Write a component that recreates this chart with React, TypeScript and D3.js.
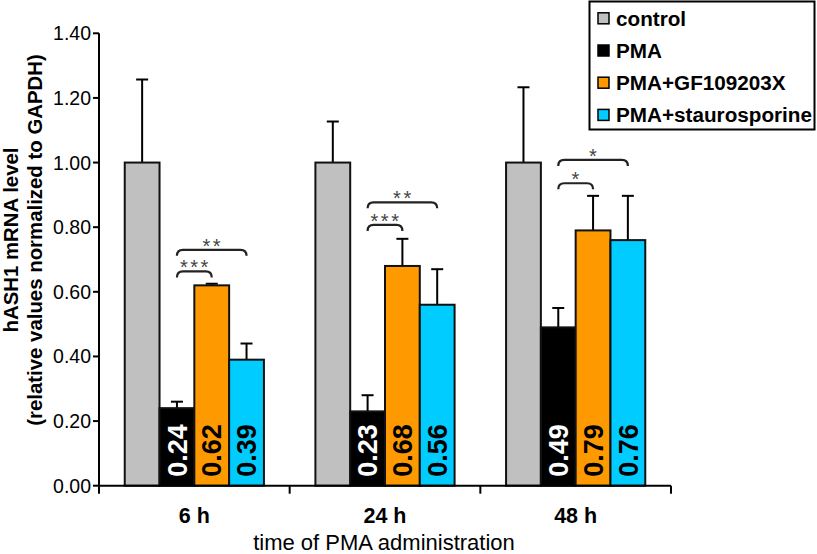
import React from 'react';
import * as d3 from 'd3';

const categories = ['6 h', '24 h', '48 h'];
const seriesNames = ['control', 'PMA', 'PMA+GF109203X', 'PMA+staurosporine'];
const seriesColors = ['#c0c0c0', '#000000', '#ff9900', '#00ccff'];
const labelColors = ['#000000', '#ffffff', '#000000', '#000000'];

const controlValues = [1.0, 1.0, 1.0];
const controlErrors = [0.257, 0.127, 0.233];
const pmaValues = [0.24, 0.23, 0.49];
const pmaErrors = [0.02, 0.05, 0.06];
const gfValues = [0.62, 0.68, 0.79];
const gfErrors = [0.005, 0.084, 0.107];
const stauroValues = [0.39, 0.56, 0.76];
const stauroErrors = [0.05, 0.11, 0.137];

const yTicks = [0, 0.2, 0.4, 0.6, 0.8, 1.0, 1.2, 1.4];

// significance brackets: category, left series, right series, height, stars
const brackets: Array<[string, string, string, number, string]> = [
  ['6 h', 'PMA', 'PMA+GF109203X', 0.663, '***'],
  ['6 h', 'PMA', 'PMA+staurosporine', 0.73, '**'],
  ['24 h', 'PMA', 'PMA+GF109203X', 0.807, '***'],
  ['24 h', 'PMA', 'PMA+staurosporine', 0.877, '**'],
  ['48 h', 'PMA', 'PMA+GF109203X', 0.936, '*'],
  ['48 h', 'PMA', 'PMA+staurosporine', 1.008, '*'],
];

const values = [controlValues, pmaValues, gfValues, stauroValues];
const errors = [controlErrors, pmaErrors, gfErrors, stauroErrors];

const W = 817;
const H = 554;
const left = 99;
const right = 671;
const top = 33.3;
const bottom = 485.7;
const font = '"Liberation Sans", Arial, sans-serif';

export default function App() {
  const x0 = d3.scaleBand<string>().domain(categories).range([left, right]).padding(0);
  const bw = x0.bandwidth();
  const gw = bw * 0.73;
  const x1 = d3
    .scaleBand<string>()
    .domain(seriesNames)
    .range([(bw - gw) / 2, (bw + gw) / 2])
    .padding(0);
  const y = d3.scaleLinear().domain([0, 1.4]).range([bottom, top]);
  const fmt = d3.format('.2f');
  const barW = x1.bandwidth();
  const cx = (cat: string, s: string) => (x0(cat) as number) + (x1(s) as number) + barW / 2;

  const xTicks = [left, ...categories.map((c) => (x0(c) as number) + bw)];

  return (
    <svg
      width={W}
      height={H}
      style={{ position: 'absolute', left: 0, top: 0, background: '#fff' }}
      fontFamily={font}
    >
      {/* bars */}
      {categories.map((cat, ci) => (
        <g key={cat} transform={`translate(${x0(cat)},0)`}>
          {seriesNames.map((s, si) => {
            const v = values[si][ci];
            const e = errors[si][ci];
            const bx = x1(s) as number;
            const mid = bx + barW / 2;
            return (
              <g key={s}>
                <line x1={mid} x2={mid} y1={y(v)} y2={y(v + e)} stroke="#000" strokeWidth={2} />
                <line x1={mid - 6} x2={mid + 6} y1={y(v + e)} y2={y(v + e)} stroke="#000" strokeWidth={2} />
                <rect
                  x={bx}
                  y={y(v)}
                  width={barW}
                  height={y(0) - y(v)}
                  fill={seriesColors[si]}
                  stroke="#111"
                  strokeWidth={2}
                />
                {si > 0 && (
                  <text
                    transform={`translate(${mid},${bottom - 9}) rotate(-90)`}
                    dy="0.36em"
                    fontSize={27}
                    fontWeight="bold"
                    fill={labelColors[si]}
                  >
                    {fmt(v)}
                  </text>
                )}
              </g>
            );
          })}
        </g>
      ))}

      {/* brackets */}
      {brackets.map(([cat, a, b, lvl, stars], i) => {
        const xa = cx(cat, a);
        const xb = cx(cat, b);
        const yy = y(lvl);
        const d = `M${xa},${yy + 6} Q${xa},${yy} ${xa + 6},${yy} L${xb - 6},${yy} Q${xb},${yy} ${xb},${yy + 6}`;
        return (
          <g key={i}>
            <path d={d} fill="none" stroke="#222" strokeWidth={2.2} />
            <text x={(xa + xb) / 2 + 1} y={yy + 3} textAnchor="middle" fontSize={20} fill="#444" letterSpacing={2.5}>
              {stars}
            </text>
          </g>
        );
      })}

      {/* y axis */}
      <line x1={left} x2={left} y1={top} y2={bottom} stroke="#000" strokeWidth={2} />
      {yTicks.map((t) => (
        <g key={t}>
          <line x1={left - 6} x2={left} y1={y(t)} y2={y(t)} stroke="#000" strokeWidth={2} />
          <text x={left - 8} y={y(t)} dy="0.36em" textAnchor="end" fontSize={19.5} fill="#000">
            {fmt(t)}
          </text>
        </g>
      ))}

      {/* x axis */}
      <line x1={left - 1} x2={right} y1={bottom} y2={bottom} stroke="#000" strokeWidth={2} />
      {xTicks.map((t, i) => (
        <line key={i} x1={t} x2={t} y1={bottom} y2={bottom + 8} stroke="#000" strokeWidth={2} />
      ))}
      {categories.map((c) => (
        <text
          key={c}
          x={(x0(c) as number) + bw / 2}
          y={522.7}
          textAnchor="middle"
          fontSize={21.5}
          fontWeight="bold"
        >
          {c}
        </text>
      ))}
      <text x={(left + right) / 2 - 1} y={550} textAnchor="middle" fontSize={22}>
        time of PMA administration
      </text>

      {/* y title */}
      <g transform="translate(11,240) rotate(-90)">
        <text textAnchor="middle" dy="0.36em" fontSize={20.4} fontWeight="bold">
          hASH1 mRNA level
        </text>
        <text textAnchor="middle" y={23.5} dy="0.36em" fontSize={20.4} fontWeight="bold">
          (relative values normalized to GAPDH)
        </text>
      </g>

      {/* legend */}
      <rect x={589.5} y={1.5} width={225} height={128} fill="#fff" stroke="#000" strokeWidth={2} />
      {seriesNames.map((s, i) => {
        const ry = 18.3 + i * 32.2;
        return (
          <g key={s}>
            <rect x={598} y={ry - 5.5} width={11} height={11} fill={seriesColors[i]} stroke="#000" strokeWidth={1.5} />
            <text x={616} y={ry} dy="0.36em" fontSize={20.7} fontWeight="bold">
              {s}
            </text>
          </g>
        );
      })}
    </svg>
  );
}
